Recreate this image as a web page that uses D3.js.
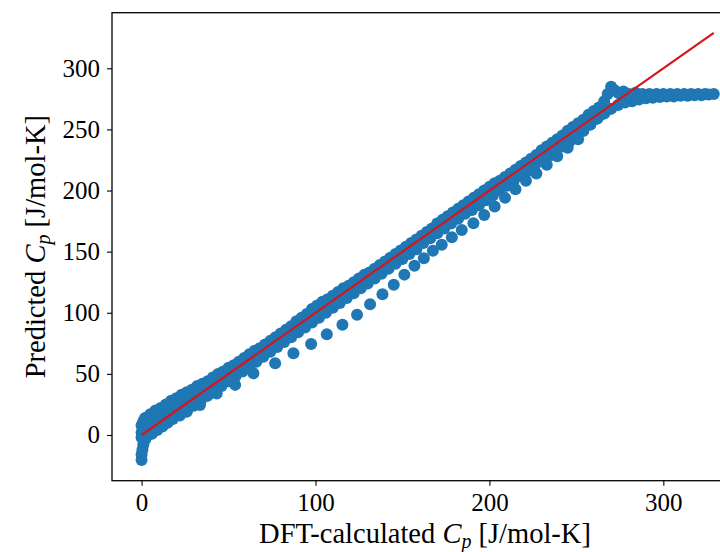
<!DOCTYPE html>
<html>
<head>
<meta charset="utf-8">
<script src="https://cdn.jsdelivr.net/npm/d3@7"></script>
<style>
  body { margin: 0; background: #fff; }
  svg text { font-family: "Liberation Serif", "DejaVu Serif", serif; fill: #000; }
</style>
</head>
<body>
<svg id="chart" width="720" height="552"></svg>
<script>
// predicted vs DFT heat capacity as [dft, predicted]
var nearZero = [[0,-20.5],[0,-16],[0.5,-12],[1,-8],[2,-4],[0,-2],[0,2],[1,5],[0,8],[1,11],[3,13],[4,9],[6,12]];

var upperRow = [[2,14],[5,17],[8,20],[11,22],[14,25],[17,28],[20,30],[23,33],[26,35],[29,37],[32,40],[35,42],
  [38,44],[41,47],[44,50],[47,52],[50,55],[53,57],[56,60],[59,63],[62,66],[65,69],[68,71],[71,74],[74,77],
  [77,80],[80,83],[83,86],[86,89],[89,93],[92,96],[95,99],[98,103],[101,106],[104,109],[107,111],[110,114],
  [113,117],[116,120],[119,122],[122,125],[125,128],[128,131],[131,133],[134,136],[137,139],[140,142],[143,145],
  [146,148],[149,151],[152,154],[155,157],[158,160],[161,163],[164,166],[167,169],[170,173],[173,176],[176,179],
  [179,182],[182,185],[185,188],[188,191],[191,194],[194,197],[197,200],[200,203],[203,206],[206,208],[209,211],
  [212,214],[215,217],[218,220],[221,223],[224,226],[227,229],[230,233],[233,236],[236,239],[239,242],[242,245],
  [245,249],[248,252],[251,255],[254,258],[257,262],[260,265],[263,268],[266,273],[268,279],[270,285],[272,282],
  [274,280],[277,281],[280,279],[284,280]];

var fillRow = [[3,8],[6,11],[9,15],[12,18],[16,21],[20,25],[24,29],[28,32],[32,36],[36,40],[40,43],[45,48],
  [50,53],[55,57],[60,62]];

var middleRow = [[1,0],[4,2],[8,6],[12,10],[16,14],[20,18],[24,22],[28,26],[32,30],[36,34],[40,38],[44,42],
  [48,46],[52,50],[56,54],[60,58],[64,62],[68,66],[72,70],[76,74],[80,78],[84,82],[88,86],[92,90],[96,94],
  [100,98],[104,102],[108,106],[112,110],[116,114],[120,118],[124,122],[128,126],[132,130],[136,134],[140,138],
  [144,142],[148,146],[152,150],[156,154],[160,158],[164,162],[168,166],[172,170],[176,174],[180,178],[184,182],
  [188,186],[192,190],[196,194],[200,198],[204,202],[208,206],[212,210],[216,214],[220,218],[224,222],[228,226],
  [232,230],[236,234],[240,238],[244,242],[248,246],[252,250],[256,254],[260,258],[264,262],[268,266]];

var lowerRow = [[3,-1],[6,1],[9,4],[12,7],[15,10],[18,13],[22,16],[26,20],[30,24],[34,28],[38,32],[42,36],
  [46,40],[50,44],[54,48],[58,52],[62,56],[66,60],[70,64],[74,68],[78,72],[82,76],[86,80],[90,84],[94,88],
  [98,92],[102,96],[106,100],[110,104],[114,108],[118,112],[122,116],[126,120],[130,124],[134,128],[138,132],
  [142,136],[146,140],[150,144],[154,148],[158,152],[162,157],[166,161],[170,165],[174,169],[178,173],[182,177],
  [186,181],[190,184],[194,188],[198,192],[202,196],[206,200],[210,204],[214,208],[218,212],[222,216],[226,220],
  [230,224],[234,228],[238,232],[242,236],[246,240],[250,245],[254,249],[258,254],[262,259]];

var dottedRow = [[26,19],[33.6,24.5],[43.2,34],[53.8,41],[64.3,50.5],[76.8,58.7],[87.3,66.8],[97.5,74.5],
  [106.5,82.4],[115.5,90.2],[123.9,98.4],[131.4,106.9],[138.5,115.1],[145,123],[151.1,131.2],[156.9,138.5],
  [162.3,144.6],[167.5,150.8],[172.6,155.7],[178.4,161.8],[184.1,167.7],[190.8,173.2],[197,180],[203,187],
  [209,194],[215,201],[221,208],[227,214],[233,221],[239,228],[245,235],[251,242]];

var saturating = [[250,244],[254,249],[258,254],[262,259],[266,263],[270,267],[274,270],[278,272],[282,273],
  [286,274.5],[290,275.5],[294,276],[298,276.5],[302,277],[306,277],[310,277.5],[314,277.5],[318,278],[322,278],
  [326,278.5],[329,279]];

var flatRow = [[276,278],[280,278.5],[284,279],[288,279],[292,279],[296,279],[300,279],[304,279],[308,279],
  [312,279],[316,279],[320,279],[324,279]];

var parityX = [0, 329];
var parityY = [0, 329];

var xTicks = [0, 100, 200, 300];
var yTicks = [0, 50, 100, 150, 200, 250, 300];

(function() {
  var svg = d3.select("#chart");
  var m = {left: 112, right: 744.2, top: 12.7, bottom: 480.7};

  var x = d3.scaleLinear().domain([-17, 346.5]).range([m.left, m.right]);
  var y = d3.scaleLinear().domain([-37.4, 345.5]).range([m.bottom, m.top]);

  var points = [].concat(nearZero, lowerRow, middleRow, fillRow, upperRow, dottedRow, saturating, flatRow);

  svg.append("g")
      .selectAll("circle")
      .data(points)
      .join("circle")
      .attr("cx", d => x(d[0]))
      .attr("cy", d => y(d[1]))
      .attr("r", 6)
      .attr("fill", "#1f77b4");

  svg.append("line")
      .attr("x1", x(parityX[0])).attr("y1", y(parityY[0]))
      .attr("x2", x(parityX[1])).attr("y2", y(parityY[1]))
      .attr("stroke", "#d8141b")
      .attr("stroke-width", 2.2);

  // frame
  svg.append("rect")
      .attr("x", m.left).attr("y", m.top)
      .attr("width", m.right - m.left).attr("height", m.bottom - m.top)
      .attr("fill", "none")
      .attr("stroke", "#000")
      .attr("stroke-width", 1.3);

  var xAxis = svg.append("g")
      .attr("transform", "translate(0," + m.bottom + ")")
      .call(d3.axisBottom(x).tickValues(xTicks).tickSize(5).tickPadding(8).tickFormat(d3.format("d")));
  var yAxis = svg.append("g")
      .attr("transform", "translate(" + m.left + ",0)")
      .call(d3.axisLeft(y).tickValues(yTicks).tickSize(5).tickPadding(7).tickFormat(d3.format("d")));

  [xAxis, yAxis].forEach(function(g) {
    g.select(".domain").remove();
    g.selectAll(".tick line").attr("stroke", "#000").attr("stroke-width", 1.1);
    g.selectAll(".tick text").style("font-size", "25px").style("font-family", "'Liberation Serif', serif");
  });

  function cpLabel(sel, before) {
    sel.append("tspan").text(before);
    sel.append("tspan").attr("font-style", "italic").text("C");
    sel.append("tspan").attr("font-style", "italic").attr("font-size", "20px").attr("dy", 5).text("p");
    sel.append("tspan").attr("dy", -5).text(" [J/mol-K]");
  }

  svg.append("text")
      .attr("x", 425)
      .attr("y", 543)
      .attr("text-anchor", "middle")
      .style("font-size", "28.5px")
      .call(cpLabel, "DFT-calculated ");

  svg.append("text")
      .attr("transform", "translate(45," + (m.top + m.bottom) / 2 + ") rotate(-90)")
      .attr("text-anchor", "middle")
      .style("font-size", "28.5px")
      .call(cpLabel, "Predicted ");
})();
</script>
</body>
</html>
